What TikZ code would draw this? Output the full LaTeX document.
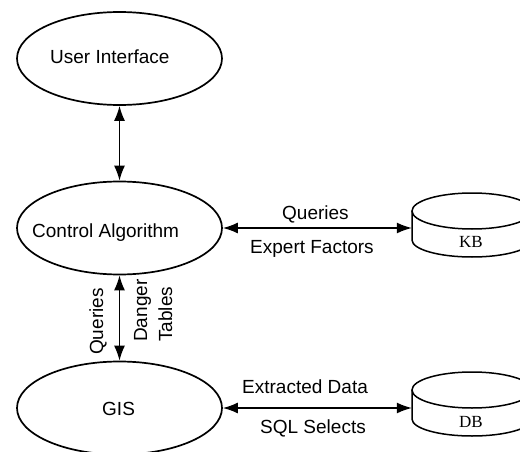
\documentclass[tikz,border=0pt]{standalone}
\usepackage{fontspec}
\setmainfont{Liberation Sans}
\newfontfamily\serifcyl{Liberation Serif}
\usetikzlibrary{shapes.geometric,arrows.meta,calc}
\tikzset{
  proc/.style={ellipse, draw, line width=1.7pt, minimum width=205pt, minimum height=93pt, inner sep=0pt},
  txt/.style={inner sep=0pt, anchor=base west, font=\fontsize{19}{23}\selectfont},
  vtxt/.style={txt, rotate=90},
  store/.style={inner sep=0pt, minimum width=120pt, minimum height=64pt},
  storetxt/.style={inner sep=0pt, anchor=base west, font=\serifcyl\fontsize{17}{20}\selectfont},
  cyl/.style={line width=1.5pt},
  flow/.style={line width=1.4pt, {Latex[length=15pt,width=11pt]}-{Latex[length=15pt,width=11pt]}}
}
\newcommand\mycyl[1]{%
  \draw[cyl] ($(#1.center)+(0,-16)$) ellipse [x radius=60pt, y radius=18pt];
  \draw[cyl] ($(#1.center)+(-60,-16)$) -- ($(#1.center)+(-60,13)$)
     arc[start angle=180, end angle=360, x radius=60pt, y radius=17pt]
     -- ($(#1.center)+(60,-16)$);
}
\begin{document}
\begin{tikzpicture}[x=1pt,y=-1pt]
\useasboundingbox (0,0) rectangle (520,452);
% processes
\node[proc] (ui) at (119.5,58.5) {};
\node[proc] (ca) at (119.5,228) {};
\node[proc] (gis) at (119.5,408) {};
\node[txt] (uit) at (50,63.5) {User Interface};
\node[txt] (cat) at (32,237) {Control Algorithm};
\node[txt] (gist) at (102,415) {GIS};
% stores
\node[store] (kb) at (472,227) {};
\node[store] (db) at (472,406) {};
\mycyl{kb}
\mycyl{db}
\node[storetxt] (kbt) at (459,247.5) {KB};
\node[storetxt] (dbt) at (459,427.5) {DB};
% connectors
\draw[flow] (ui.south) -- (ca.north);
\draw[flow] (ca.south) -- (gis.north);
\draw[flow] (ca.east) -- (kb.west |- ca.east);
\draw[flow] (gis.east) -- (db.west |- gis.east);
% labels
\node[txt] (l1) at (282,219) {Queries};
\node[txt] (l2) at (250,253.5) {Expert Factors};
\node[txt] (l3) at (242,393) {Extracted Data};
\node[txt] (l4) at (260,433) {SQL Selects};
\node[vtxt] (l5) at (103,355) {Queries};
\node[vtxt] (l6) at (147,342) {Danger};
\node[vtxt] (l7) at (172,342) {Tables};
\end{tikzpicture}
\end{document}
